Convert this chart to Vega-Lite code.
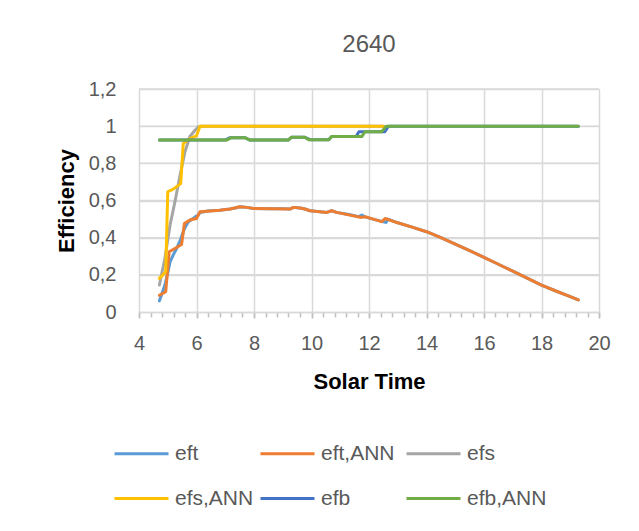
{
  "$schema": "https://vega.github.io/schema/vega-lite/v6.json",
  "autosize": {"type": "none"},
  "padding": {"left": 139, "top": 89, "right": 40, "bottom": 219},
  "width": 460,
  "height": 223,
  "background": "white",
  "title": {"text": "2640", "fontSize": 24, "fontWeight": "normal", "color": "#595959", "font": "Liberation Sans", "anchor": "middle", "offset": 22},
  "data": {"values": [
    {"t": 4.71, "v": 0.06, "s": "eft"}, {"t": 4.8, "v": 0.1, "s": "eft"}, {"t": 4.9, "v": 0.145, "s": "eft"}, {"t": 5.0, "v": 0.21, "s": "eft"}, {"t": 5.08, "v": 0.27, "s": "eft"}, {"t": 5.2, "v": 0.31, "s": "eft"}, {"t": 5.31, "v": 0.342, "s": "eft"}, {"t": 5.42, "v": 0.38, "s": "eft"}, {"t": 5.54, "v": 0.432, "s": "eft"}, {"t": 5.62, "v": 0.46, "s": "eft"}, {"t": 5.72, "v": 0.486, "s": "eft"}, {"t": 5.85, "v": 0.5, "s": "eft"}, {"t": 5.95, "v": 0.512, "s": "eft"}, {"t": 6.05, "v": 0.52, "s": "eft"}, {"t": 6.12, "v": 0.535, "s": "eft"}, {"t": 6.4, "v": 0.543, "s": "eft"}, {"t": 6.8, "v": 0.548, "s": "eft"}, {"t": 7.17, "v": 0.554, "s": "eft"}, {"t": 7.35, "v": 0.56, "s": "eft"}, {"t": 7.51, "v": 0.566, "s": "eft"}, {"t": 7.75, "v": 0.563, "s": "eft"}, {"t": 7.98, "v": 0.557, "s": "eft"}, {"t": 8.5, "v": 0.556, "s": "eft"}, {"t": 9.0, "v": 0.555, "s": "eft"}, {"t": 9.25, "v": 0.554, "s": "eft"}, {"t": 9.37, "v": 0.563, "s": "eft"}, {"t": 9.6, "v": 0.56, "s": "eft"}, {"t": 9.77, "v": 0.554, "s": "eft"}, {"t": 9.95, "v": 0.545, "s": "eft"}, {"t": 10.3, "v": 0.54, "s": "eft"}, {"t": 10.53, "v": 0.536, "s": "eft"}, {"t": 10.7, "v": 0.545, "s": "eft"}, {"t": 10.87, "v": 0.536, "s": "eft"}, {"t": 11.3, "v": 0.525, "s": "eft"}, {"t": 11.65, "v": 0.513, "s": "eft"}, {"t": 11.75, "v": 0.522, "s": "eft"}, {"t": 11.86, "v": 0.512, "s": "eft"}, {"t": 12.2, "v": 0.497, "s": "eft"}, {"t": 12.5, "v": 0.485, "s": "eft"}, {"t": 12.6, "v": 0.482, "s": "eft"}, {"t": 12.66, "v": 0.5, "s": "eft"}, {"t": 13.0, "v": 0.48, "s": "eft"}, {"t": 13.5, "v": 0.457, "s": "eft"}, {"t": 14.0, "v": 0.432, "s": "eft"}, {"t": 14.5, "v": 0.4, "s": "eft"}, {"t": 15.0, "v": 0.365, "s": "eft"}, {"t": 15.5, "v": 0.33, "s": "eft"}, {"t": 16.0, "v": 0.294, "s": "eft"}, {"t": 16.5, "v": 0.257, "s": "eft"}, {"t": 17.0, "v": 0.22, "s": "eft"}, {"t": 17.5, "v": 0.182, "s": "eft"}, {"t": 18.0, "v": 0.145, "s": "eft"}, {"t": 18.5, "v": 0.113, "s": "eft"}, {"t": 19.0, "v": 0.083, "s": "eft"}, {"t": 19.28, "v": 0.065, "s": "eft"},

    {"t": 4.71, "v": 0.09, "s": "eft,ANN"}, {"t": 4.93, "v": 0.109, "s": "eft,ANN"}, {"t": 5.05, "v": 0.324, "s": "eft,ANN"}, {"t": 5.25, "v": 0.342, "s": "eft,ANN"}, {"t": 5.48, "v": 0.363, "s": "eft,ANN"}, {"t": 5.58, "v": 0.476, "s": "eft,ANN"}, {"t": 5.77, "v": 0.495, "s": "eft,ANN"}, {"t": 6.0, "v": 0.503, "s": "eft,ANN"}, {"t": 6.12, "v": 0.539, "s": "eft,ANN"}, {"t": 6.81, "v": 0.548, "s": "eft,ANN"}, {"t": 7.17, "v": 0.554, "s": "eft,ANN"}, {"t": 7.51, "v": 0.566, "s": "eft,ANN"}, {"t": 7.75, "v": 0.563, "s": "eft,ANN"}, {"t": 7.98, "v": 0.557, "s": "eft,ANN"}, {"t": 9.25, "v": 0.554, "s": "eft,ANN"}, {"t": 9.37, "v": 0.563, "s": "eft,ANN"}, {"t": 9.6, "v": 0.56, "s": "eft,ANN"}, {"t": 9.77, "v": 0.554, "s": "eft,ANN"}, {"t": 9.95, "v": 0.545, "s": "eft,ANN"}, {"t": 10.53, "v": 0.536, "s": "eft,ANN"}, {"t": 10.7, "v": 0.545, "s": "eft,ANN"}, {"t": 10.87, "v": 0.536, "s": "eft,ANN"}, {"t": 11.75, "v": 0.509, "s": "eft,ANN"}, {"t": 11.86, "v": 0.513, "s": "eft,ANN"}, {"t": 12.44, "v": 0.486, "s": "eft,ANN"}, {"t": 12.56, "v": 0.503, "s": "eft,ANN"}, {"t": 13.0, "v": 0.48, "s": "eft,ANN"}, {"t": 13.5, "v": 0.457, "s": "eft,ANN"}, {"t": 14.0, "v": 0.432, "s": "eft,ANN"}, {"t": 14.5, "v": 0.4, "s": "eft,ANN"}, {"t": 15.0, "v": 0.365, "s": "eft,ANN"}, {"t": 15.5, "v": 0.33, "s": "eft,ANN"}, {"t": 16.0, "v": 0.294, "s": "eft,ANN"}, {"t": 16.5, "v": 0.257, "s": "eft,ANN"}, {"t": 17.0, "v": 0.22, "s": "eft,ANN"}, {"t": 17.5, "v": 0.182, "s": "eft,ANN"}, {"t": 18.0, "v": 0.145, "s": "eft,ANN"}, {"t": 18.5, "v": 0.113, "s": "eft,ANN"}, {"t": 19.0, "v": 0.083, "s": "eft,ANN"}, {"t": 19.28, "v": 0.065, "s": "eft,ANN"},

    {"t": 4.71, "v": 0.145, "s": "efs"}, {"t": 4.9, "v": 0.288, "s": "efs"}, {"t": 5.08, "v": 0.468, "s": "efs"}, {"t": 5.25, "v": 0.593, "s": "efs"}, {"t": 5.43, "v": 0.737, "s": "efs"}, {"t": 5.6, "v": 0.862, "s": "efs"}, {"t": 5.77, "v": 0.944, "s": "efs"}, {"t": 5.95, "v": 0.978, "s": "efs"}, {"t": 6.06, "v": 0.996, "s": "efs"}, {"t": 6.15, "v": 1.0, "s": "efs"}, {"t": 12.5, "v": 1.0, "s": "efs"},

    {"t": 4.71, "v": 0.181, "s": "efs,ANN"}, {"t": 4.93, "v": 0.217, "s": "efs,ANN"}, {"t": 5.0, "v": 0.647, "s": "efs,ANN"}, {"t": 5.19, "v": 0.661, "s": "efs,ANN"}, {"t": 5.45, "v": 0.691, "s": "efs,ANN"}, {"t": 5.54, "v": 0.907, "s": "efs,ANN"}, {"t": 5.77, "v": 0.933, "s": "efs,ANN"}, {"t": 6.0, "v": 0.948, "s": "efs,ANN"}, {"t": 6.12, "v": 1.0, "s": "efs,ANN"}, {"t": 12.5, "v": 1.0, "s": "efs,ANN"},

    {"t": 4.71, "v": 0.925, "s": "efb"}, {"t": 7.0, "v": 0.925, "s": "efb"}, {"t": 7.15, "v": 0.937, "s": "efb"}, {"t": 7.7, "v": 0.937, "s": "efb"}, {"t": 7.86, "v": 0.925, "s": "efb"}, {"t": 9.19, "v": 0.925, "s": "efb"}, {"t": 9.3, "v": 0.94, "s": "efb"}, {"t": 9.77, "v": 0.94, "s": "efb"}, {"t": 9.95, "v": 0.927, "s": "efb"}, {"t": 10.6, "v": 0.927, "s": "efb"}, {"t": 10.7, "v": 0.944, "s": "efb"}, {"t": 11.55, "v": 0.944, "s": "efb"}, {"t": 11.65, "v": 0.97, "s": "efb"}, {"t": 12.55, "v": 0.97, "s": "efb"}, {"t": 12.68, "v": 1.0, "s": "efb"}, {"t": 19.28, "v": 1.0, "s": "efb"},

    {"t": 4.71, "v": 0.925, "s": "efb,ANN"}, {"t": 7.05, "v": 0.925, "s": "efb,ANN"}, {"t": 7.2, "v": 0.937, "s": "efb,ANN"}, {"t": 7.7, "v": 0.937, "s": "efb,ANN"}, {"t": 7.86, "v": 0.925, "s": "efb,ANN"}, {"t": 9.19, "v": 0.925, "s": "efb,ANN"}, {"t": 9.3, "v": 0.94, "s": "efb,ANN"}, {"t": 9.77, "v": 0.94, "s": "efb,ANN"}, {"t": 9.9, "v": 0.927, "s": "efb,ANN"}, {"t": 10.6, "v": 0.927, "s": "efb,ANN"}, {"t": 10.7, "v": 0.944, "s": "efb,ANN"}, {"t": 11.75, "v": 0.944, "s": "efb,ANN"}, {"t": 11.86, "v": 0.97, "s": "efb,ANN"}, {"t": 12.44, "v": 0.97, "s": "efb,ANN"}, {"t": 12.6, "v": 1.0, "s": "efb,ANN"}, {"t": 19.28, "v": 1.0, "s": "efb,ANN"}
  ]},
  "encoding": {
    "y": {
      "field": "v", "type": "quantitative",
      "scale": {"domain": [0, 1.2], "nice": false},
      "axis": {
        "title": "Efficiency",
        "grid": true,
        "gridColor": "#d9d9d9",
        "gridWidth": 1.5,
        "tickCount": 6,
        "labelExpr": "replace(format(datum.value, '.1~f'), '.', ',')",
        "tickSize": 0,
        "domain": false,
        "labelPadding": 23,
        "titlePadding": 10
      }
    }
  },
  "layer": [
    {
      "data": {"values": [{"v": 0.2}, {"v": 0.4}, {"v": 0.6}, {"v": 0.8}, {"v": 1.0}, {"v": 1.2}]},
      "mark": {"type": "rule", "color": "#d9d9d9", "strokeWidth": 1.5},
      "encoding": {}
    },
    {
      "mark": {"type": "line", "opacity": 0},
      "encoding": {
        "x": {
          "field": "t", "type": "quantitative",
          "scale": {"domain": [4, 20], "nice": false, "zero": false},
          "axis": {
            "orient": "bottom",
            "values": [4,4.4,4.8,5.2,5.6,6,6.4,6.8,7.2,7.6,8,8.4,8.8,9.2,9.6,10,10.4,10.8,11.2,11.6,12,12.4,12.8,13.2,13.6,14,14.4,14.8,15.2,15.6,16,16.4,16.8,17.2,17.6,18,18.4,18.8,19.2,19.6,20],
            "labels": false, "grid": false, "title": null, "domain": false, "ticks": true, "tickSize": 5, "tickColor": "#bfbfbf", "tickWidth": 1.5
          }
        },
        "detail": {"field": "s"}
      }
    },
    {
      "mark": {"type": "line", "strokeWidth": 3, "strokeJoin": "round", "strokeCap": "round"},
      "encoding": {
        "x": {
          "field": "t", "type": "quantitative",
          "scale": {"domain": [4, 20], "nice": false, "zero": false},
          "axis": {
            "orient": "bottom",
            "title": "Solar Time",
            "grid": true,
            "gridWidth": 1.5,
            "values": [4, 6, 8, 10, 12, 14, 16, 18, 20],
            "ticks": true,
            "tickSize": 6,
            "tickColor": "#bfbfbf",
            "tickWidth": 1.5,
            "domainWidth": 1.5,
            "labelFlush": false,
            "labelPadding": 15,
            "titlePadding": 18
          }
        },
        "color": {
          "field": "s", "type": "nominal",
          "scale": {"domain": ["eft", "eft,ANN", "efs", "efs,ANN", "efb", "efb,ANN"], "range": ["#5B9BD5", "#ED7D31", "#A5A5A5", "#FFC000", "#4472C4", "#70AD47"]},
          "legend": {
            "title": null, "orient": "none", "legendX": -26, "legendY": 336,
            "direction": "horizontal", "columns": 3, "gridAlign": "all",
            "symbolType": "stroke", "symbolSize": 2916, "symbolStrokeWidth": 3,
            "labelFontSize": 21, "labelColor": "#595959", "labelFont": "Liberation Sans",
            "labelOffset": 5, "columnPadding": -1, "rowPadding": 6, "padding": 0, "labelLimit": 200
          }
        }
      }
    }
  ],
  "resolve": {"axis": {"x": "independent"}},
  "config": {
    "view": {"stroke": null},
    "font": "Liberation Sans",
    "axis": {
      "gridColor": "#d9d9d9", "gridWidth": 1.5,
      "domainColor": "#d9d9d9", "domainWidth": 1.5,
      "labelFont": "Liberation Sans", "labelFontSize": 20, "labelColor": "#595959",
      "titleFont": "Liberation Sans", "titleFontSize": 22, "titleFontWeight": "bold", "titleColor": "#000000"
    }
  }
}
